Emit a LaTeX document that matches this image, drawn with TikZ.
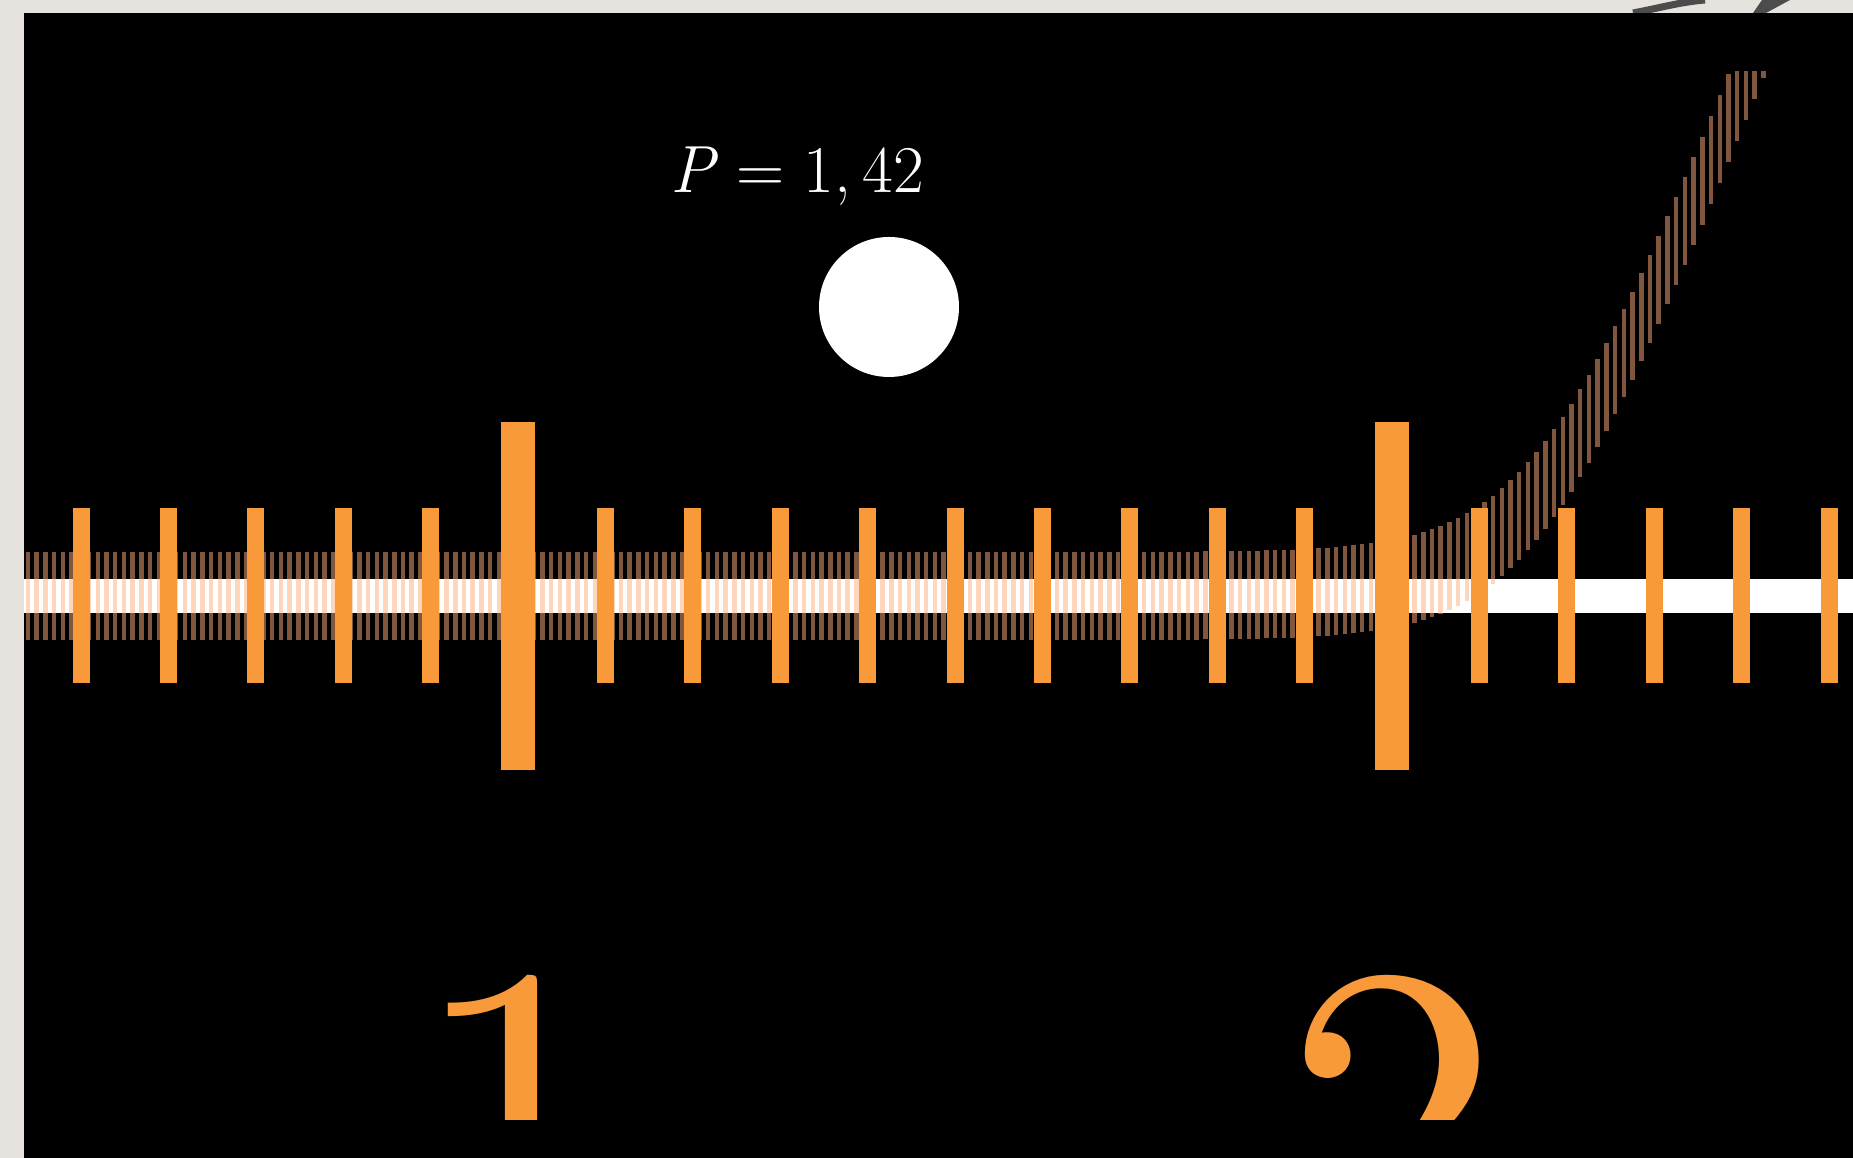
\documentclass[tikz,border=0pt]{standalone}
\usepackage{fontspec}
\newfontfamily\digitfont{lmroman10-regular.otf}
\usepackage{tikz}
\usetikzlibrary{positioning}
\definecolor{tickorange}{RGB}{248,154,58}
\definecolor{hatchbrown}{RGB}{255,175,125}
\definecolor{marble}{RGB}{230,226,222}

\begin{document}
\begin{tikzpicture}[x=1cm,y=1cm,
    smalltick/.style={tickorange,line width=0.17cm},
    bigtick/.style={tickorange,line width=0.34cm},
    hatch/.style={hatchbrown,opacity=0.5,line width=0.045cm},
    bigdigit/.style={tickorange,anchor=base,font=\digitfont\fontsize{124}{124}\selectfont}]
  \useasboundingbox (0,0) rectangle (18.53,11.58);
  \fill[marble] (0,0) rectangle (18.53,11.58);
  \draw[black!70,line width=2pt] (16.33,11.45) .. controls (16.6,11.5) and (16.8,11.56) .. (17.05,11.58);
  \fill[black!70] (17.53,11.45) -- (17.66,11.45) -- (17.9,11.58) -- (17.62,11.58) -- cycle;
  \fill[black] (0.24,0) rectangle (18.53,11.45);
  \draw[white,line width=0.34cm] (0.24,5.62) -- (18.53,5.62);
  \begin{scope}
    \clip (0.24,0) rectangle (18.53,10.86);
    \foreach \i in {0,...,200}{
      \pgfmathsetmacro{\xs}{0.28+0.0872*\i}
      \pgfmathsetmacro{\yc}{5.62+1.5*ln(1+exp(max((\xs-15.4)/0.6,-8)))}
      \draw[hatch] (\xs,\yc-0.44) -- (\xs,\yc+0.44);
    }
  \end{scope}
  \foreach \k in {-5,...,-1,1,2,...,9,11,12,...,15}
    \draw[smalltick] (5.18+0.874*\k,4.75) -- (5.18+0.874*\k,6.50);
  \foreach \k in {0,10}
    \draw[bigtick] (5.18+0.874*\k,3.88) -- (5.18+0.874*\k,7.36);
  \node[circle,fill=white,minimum size=1.4cm,inner sep=0pt] (dot) at (8.89,8.51) {};
  \node[white,anchor=base,font=\fontsize{19}{19}\selectfont] (plabel) at (7.97,9.65)
    {\textit{P}\hspace{0.28em}=\hspace{0.28em}1,\hspace{0.17em}42};
  \begin{scope}
    \clip (0.24,0.38) rectangle (18.53,11.45);
    \node[bigdigit] (one) at (5.18,-1.08) {1};
    \node[bigdigit] (two) at (13.92,-1.08) {2};
  \end{scope}
\end{tikzpicture}
\end{document}
